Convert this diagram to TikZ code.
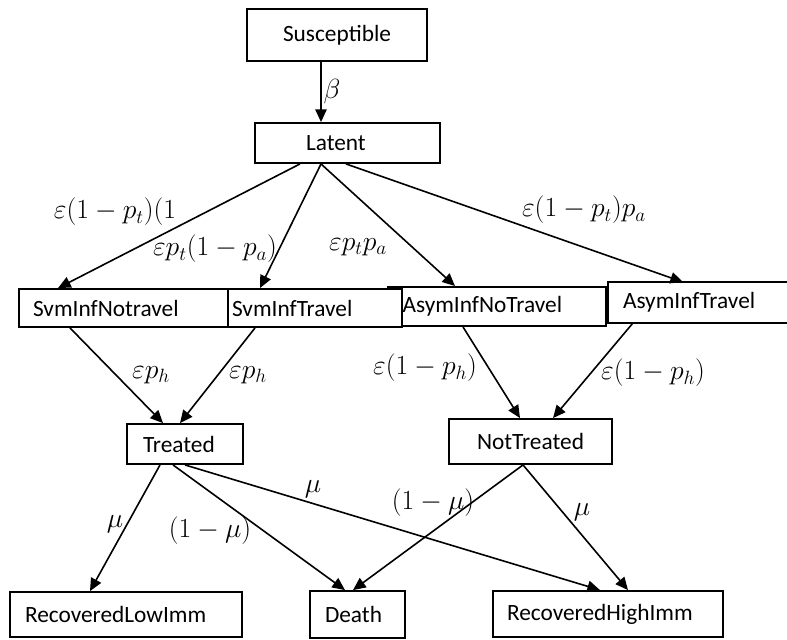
\documentclass[tikz,border=0pt]{standalone}
\usepackage{fontspec}
\setmainfont{Carlito}
\usetikzlibrary{arrows.meta,calc}

\tikzset{every picture/.style={line width=1.2pt}}
\tikzset{
  box/.style={draw, fill=white, line width=1.4pt, inner ysep=0pt, align=left,
    font=\fontsize{17.5}{21}\selectfont},
  flow/.style={-{Triangle[length=9.5pt,width=8.5pt]}},
  rate/.style={inner sep=0pt, font=\fontsize{19.5}{23}\selectfont}
}

\begin{document}
\begin{tikzpicture}[x=0.75pt,y=0.75pt,yscale=-1,xscale=1]
\useasboundingbox (0,0) rectangle (787,639);

% Compartments
\node[box, align=center, text width=125pt, inner xsep=5pt, minimum height=39pt] (sus) at (337,35) {Susceptible};
\node[box, text width=62.25pt, inner xsep=38.25pt, minimum height=30pt] (lat) at (347.5,143) {Latent};
\node[box, text width=141.7pt, inner xsep=10.9pt, minimum height=29.25pt] (ant) at (497,306.5) {AsymInfNoTravel};
\node[box, draw=none, text width=123pt, inner xsep=10.5pt, minimum height=29.25pt] (at) at (705,302.5) {AsymInfTravel};
\draw[line width=1.4pt] (at.north east) -| (at.south west) -- (at.south east);
\node[box, text width=124.5pt, inner xsep=3pt, minimum height=28.5pt] (st) at (315,308) {SvmInfTravel};
\node[box, text width=135.75pt, inner xsep=10.5pt, minimum height=28.5pt] (sni) at (123.5,308) {SvmInfNotravel};
\node[box, text width=63pt, inner xsep=12pt, minimum height=30pt] (trt) at (185,444) {Treated};
\node[box, align=center, text width=112.25pt, inner xsep=5pt, minimum height=33.75pt] (ntr) at (530.5,441.5) {NotTreated};
\node[box, text width=151.5pt, inner xsep=11.25pt, minimum height=33.75pt] (rlow) at (126,614.5) {RecoveredLowImm};
\node[box, text width=48.75pt, inner xsep=11.25pt, minimum height=35.25pt] (death) at (357.5,614.5) {Death};
\node[box, text width=151.5pt, inner xsep=10.5pt, minimum height=34.5pt] (rhigh) at (608,614) {RecoveredHighImm};

% Flows
\draw[flow] ($(sus.south)+(-16,0)$) -- ($(lat.north)+(-26.5,0)$);
\draw[flow] ($(lat.south)+(-47.5,0)$) -- ($(sni.north)+(-65.5,0)$);
\draw[flow] ($(lat.south)+(-26.5,0)$) -- ($(st.north)+(-55,0)$);
\draw[flow] ($(lat.south)+(-26.5,0)$) -- ($(ant.north)+(-42,0)$);
\draw[flow] ($(lat.south)+(-1.5,0)$) -- ($(at.north)+(-22,0)$);
\draw[flow] ($(sni.south)+(-53.5,0)$) -- ($(trt.north)+(-22,0)$);
\draw[flow] ($(st.south)+(-60,0)$) -- ($(trt.north)+(-5,0)$);
\draw[flow] ($(ant.south)+(-34,0)$) -- ($(ntr.north)+(-10.5,0)$);
\draw[flow] ($(at.south)+(-72,0)$) -- ($(ntr.north)+(22.5,0)$);
\draw[flow] ($(trt.south)+(-25,0)$) -- ($(rlow.north)+(-36,0)$);
\draw[flow] ($(trt.south)+(-12,0)$) -- ($(death.north)+(-12.5,0)$);
\draw[flow] (trt.south) -- ($(rhigh.north)+(-8,0)$);
\draw[flow] ($(ntr.south)+(-7.5,0)$) -- ($(death.north)+(-4.5,0)$);
\draw[flow] ($(ntr.south)+(-7.5,0)$) -- ($(rhigh.north)+(20,0)$);

% Rates
\node[rate] (rbeta) at (332,92) {$\beta$};
\node[rate] (rsni) at (115,212) {$\varepsilon(1-p_t)(1$};
\node[rate] (rst) at (215,249) {$\varepsilon p_t(1-p_a)$};
\node[rate] (rant) at (358,247) {$\varepsilon p_t p_a$};
\node[rate] (rat) at (584,210) {$\varepsilon(1-p_t)p_a$};
\node[rate] (rtrtl) at (151,375) {$\varepsilon p_h$};
\node[rate] (rtrtr) at (248,375) {$\varepsilon p_h$};
\node[rate] (rntrl) at (425,368) {$\varepsilon(1-p_h)$};
\node[rate] (rntrr) at (653,373) {$\varepsilon(1-p_h)$};
\node[rate] (rlowmu) at (115,524) {$\mu$};
\node[rate] (rdeatht) at (210,531) {$(1-\mu)$};
\node[rate] (rhight) at (313,489) {$\mu$};
\node[rate] (rdeathn) at (433,503) {$(1-\mu)$};
\node[rate] (rhighn) at (582,512) {$\mu$};

\end{tikzpicture}
\end{document}
